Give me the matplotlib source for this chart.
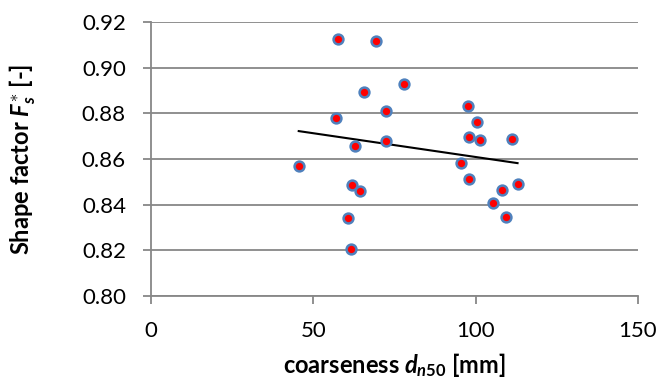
import numpy as np
import matplotlib
matplotlib.use("Agg")
import matplotlib.pyplot as plt

plt.rcParams['font.family'] = ['Lato', 'DejaVu Sans']
plt.rcParams['mathtext.fontset'] = 'custom'
plt.rcParams['mathtext.rm'] = 'Lato:bold'
plt.rcParams['mathtext.it'] = 'Lato:bold:italic'
plt.rcParams['mathtext.bf'] = 'Lato:bold'

coarseness = [57.6, 69.3, 65.5, 72.5, 56.9, 72.5, 62.7, 45.5, 61.8, 64.4, 60.6, 61.7,
              77.9, 97.7, 100.4, 97.9, 101.2, 111.2, 95.6, 97.9, 112.9, 108.0, 105.2, 109.4]
shape_factor = [0.9127, 0.9118, 0.8892, 0.8812, 0.8781, 0.8679, 0.8657, 0.8568, 0.8485, 0.8458, 0.8340, 0.8204,
                0.8927, 0.8831, 0.8763, 0.8695, 0.8682, 0.8689, 0.8584, 0.8514, 0.8489, 0.8464, 0.8409, 0.8345]
x_ticks = [0, 50, 100, 150]
y_ticks = [0.80, 0.82, 0.84, 0.86, 0.88, 0.90, 0.92]

x = np.array(coarseness)
y = np.array(shape_factor)

fig = plt.figure(figsize=(6.61, 3.86), dpi=100)
ax = fig.add_axes([151/661, 1 - 296/386, (638 - 151)/661, (296 - 22)/386])

grid_c = '#878787'
ax.set_xlim(0, 150)
ax.set_ylim(0.80, 0.92)
ax.set_xticks(x_ticks)
ax.set_yticks(y_ticks)
ax.set_yticklabels([f"{v:.2f}" for v in y_ticks])
ax.yaxis.grid(True, color=grid_c, linewidth=1.3)
ax.set_axisbelow(True)
for s in ['top', 'right']:
    ax.spines[s].set_visible(False)
for s in ['left', 'bottom']:
    ax.spines[s].set_color(grid_c)
    ax.spines[s].set_linewidth(1.3)
ax.tick_params(axis='both', colors=grid_c, length=6, width=1.3, labelsize=16,
               labelcolor='black', pad=12)

# trendline
m, b = np.polyfit(x, y, 1)
xs = np.array([x.min(), x.max()])
ax.plot(xs, m * xs + b, color='black', linewidth=1.5, zorder=2)

ax.scatter(x, y, s=50, facecolor='#ff0000', edgecolor='#4f81bd', linewidth=1.8, zorder=3)

ax.set_xlabel(r"coarseness $d_{\mathit{n50}}$ [mm]", fontsize=17, fontweight='bold')
ax.set_ylabel(r"Shape factor $F_s^{\ast}$ [-]", fontsize=17, fontweight='bold')
ax.xaxis.set_label_coords(0.5, (296 - 351) / 274)
ax.yaxis.set_label_coords((38 - 151) / 487, 0.5)

fig.savefig("out.png", dpi=100)
